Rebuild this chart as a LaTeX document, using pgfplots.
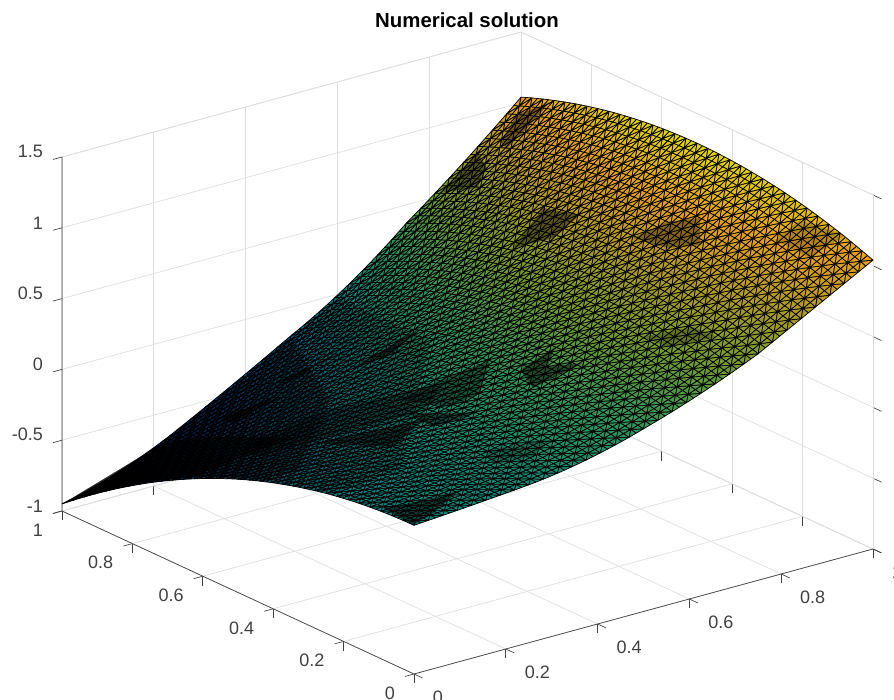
\documentclass[border=0pt]{standalone}
\usepackage{pgfplots}
\usepackage{fontspec}
\setmainfont{Liberation Sans}
\usepgfplotslibrary{patchplots}
\pgfplotsset{compat=1.18}
\definecolor{axdark}{gray}{0.25}
\definecolor{gridgray}{gray}{0.87}
\pgfplotsset{
  geom/.style={
    at={(310.5pt,125.7pt)}, anchor=origin,
    x={(344.25pt,93.75pt)}, y={(-264pt,122.25pt)}, z={(0pt,106.2pt)},
    xmin=0,xmax=1,ymin=0,ymax=1,zmin=-1,zmax=1.5,clip=false,
    point meta min=-0.95, point meta max=1.29,
    colormap={parula}{rgb255=(40,25,110); rgb255=(15,60,170); rgb255=(10,90,170); rgb255=(0,115,155); rgb255=(5,135,130); rgb255=(45,150,90); rgb255=(115,155,45); rgb255=(175,155,35); rgb255=(230,160,25); rgb255=(225,215,0)},
  },
  surfpatch/.style={patch, patch type=biquadratic, patch refines=3, patch to triangles, shader=faceted, faceted color=black, line width=0.55pt},
}
\newcommand\surfpart[1]{\begin{axis}[geom,hide axis]\addplot3[surfpatch] coordinates {#1};\end{axis}}
\begin{document}
\begin{tikzpicture}[x=1pt,y=1pt]
\path[use as bounding box] (0,0) rectangle (670.5,525);
\begin{axis}[
  geom,
  xtick={0,0.2,0.4,0.6,0.8,1},
  ytick={0,0.2,0.4,0.6,0.8,1},
  ztick={-1,-0.5,0,0.5,1,1.5},
  xticklabels={{\makebox[18.77pt][l]{0}},0.2,0.4,0.6,0.8,{\makebox[18.77pt][l]{1}}},
  yticklabels={{\makebox[18.77pt][r]{0}},0.2,0.4,0.6,0.8,{\makebox[18.77pt][r]{1}}},
  zticklabels={-1,-0.5,0,0.5,1,1.5},
  tick pos=left,
  grid=major,
  major grid style={gridgray,line width=0.5pt},
  axis line style={gridgray,line width=0.5pt},
  tick align=outside,
  major tick length=7pt,
  tick style={axdark,line width=0.5pt},
  ticklabel style={font=\fontsize{13.5}{15}\selectfont,text=axdark},
  xticklabel style={anchor=center,xshift=17.25pt,yshift=-14.25pt},
  yticklabel style={anchor=center,xshift=-17pt,yshift=-12.5pt},
  zticklabel style={xshift=-4.5pt},
]
\addplot3[axdark,line width=0.5pt,forget plot] coordinates {(1,0,-1) (0,0,-1) (0,1,-1) (0,1,1.5)};
\end{axis}
\surfpart{(0,0,0.05)(0.25,0,0.115)(0.25,0.25,0.111)(0,0.25,-0.0125)(0.125,0,0.08)(0.25,0.125,0.128)(0.125,0.25,0.04)(0,0.125,0.034)(0.125,0.125,0.075)}
\surfpart{(0.25,0,0.115)(0.5,0,0.29)(0.5,0.25,0.355)(0.25,0.25,0.111)(0.375,0,0.18)(0.5,0.125,0.338)(0.375,0.25,0.215)(0.25,0.125,0.128)(0.375,0.125,0.213)}
\surfpart{(0.5,0,0.29)(0.75,0,0.6)(0.75,0.25,0.73)(0.5,0.25,0.355)(0.625,0,0.43)(0.75,0.125,0.68)(0.625,0.25,0.523)(0.5,0.125,0.338)(0.625,0.125,0.492)}
\surfpart{(0.75,0,0.6)(1,0,1.04)(1,0.25,1.2275)(0.75,0.25,0.73)(0.875,0,0.82)(1,0.125,1.149)(0.875,0.25,0.975)(0.75,0.125,0.68)(0.875,0.125,0.913)}
\surfpart{(0,0.25,-0.0125)(0.25,0.25,0.111)(0.25,0.5,-0.018)(0,0.5,-0.2)(0.125,0.25,0.04)(0.25,0.375,0.062)(0.125,0.5,-0.125)(0,0.375,-0.091)(0.125,0.375,-0.027)}
\surfpart{(0.25,0.25,0.111)(0.5,0.25,0.355)(0.5,0.5,0.295)(0.25,0.5,-0.018)(0.375,0.25,0.215)(0.5,0.375,0.34)(0.375,0.5,0.125)(0.25,0.375,0.062)(0.375,0.375,0.185)}
\surfpart{(0.5,0.25,0.355)(0.75,0.25,0.73)(0.75,0.5,0.735)(0.5,0.5,0.295)(0.625,0.25,0.523)(0.75,0.375,0.748)(0.625,0.5,0.49)(0.5,0.375,0.34)(0.625,0.375,0.522)}
\surfpart{(0.75,0.25,0.73)(1,0.25,1.2275)(1,0.5,1.29)(0.75,0.5,0.735)(0.875,0.25,0.975)(1,0.375,1.274)(0.875,0.5,1.005)(0.75,0.375,0.748)(0.875,0.375,1.005)}
\surfpart{(0,0.5,-0.2)(0.25,0.5,-0.018)(0.25,0.75,-0.271)(0,0.75,-0.5125)(0.125,0.5,-0.125)(0.25,0.625,-0.129)(0.125,0.75,-0.415)(0,0.625,-0.341)(0.125,0.625,-0.255)}
\surfpart{(0.25,0.5,-0.018)(0.5,0.5,0.295)(0.5,0.75,0.11)(0.25,0.75,-0.271)(0.375,0.5,0.125)(0.5,0.625,0.218)(0.375,0.75,-0.09)(0.25,0.625,-0.129)(0.375,0.625,0.033)}
\surfpart{(0.5,0.5,0.295)(0.75,0.5,0.735)(0.75,0.75,0.615)(0.5,0.75,0.11)(0.625,0.5,0.49)(0.75,0.625,0.69)(0.625,0.75,0.333)(0.5,0.625,0.218)(0.625,0.625,0.427)}
\surfpart{(0.75,0.5,0.735)(1,0.5,1.29)(1,0.75,1.2275)(0.75,0.75,0.615)(0.875,0.5,1.005)(1,0.625,1.274)(0.875,0.75,0.91)(0.75,0.625,0.69)(0.875,0.625,0.973)}
\surfpart{(0,0.75,-0.5125)(0.25,0.75,-0.271)(0.25,1,-0.65)(0,1,-0.95)(0.125,0.75,-0.415)(0.25,0.875,-0.445)(0.125,1,-0.83)(0,0.875,-0.716)(0.125,0.875,-0.607)}
\surfpart{(0.25,0.75,-0.271)(0.5,0.75,0.11)(0.5,1,-0.2)(0.25,1,-0.65)(0.375,0.75,-0.09)(0.5,0.875,-0.03)(0.375,1,-0.43)(0.25,0.875,-0.445)(0.375,0.875,-0.245)}
\surfpart{(0.5,0.75,0.11)(0.75,0.75,0.615)(0.75,1,0.37)(0.5,1,-0.2)(0.625,0.75,0.333)(0.75,0.875,0.508)(0.625,1,0.05)(0.5,0.875,-0.03)(0.625,0.875,0.207)}
\surfpart{(0.75,0.75,0.615)(1,0.75,1.2275)(1,1,1.04)(0.75,1,0.37)(0.875,0.75,0.91)(1,0.875,1.149)(0.875,1,0.69)(0.75,0.875,0.508)(0.875,0.875,0.815)}
\begin{axis}[
  at={(0pt,0pt)}, anchor=south west, width=670.5pt, height=525pt, scale only axis,
  xmin=0,xmax=894,ymin=0,ymax=700,y dir=reverse, hide axis, clip=false,
]
\addplot[fill=black,fill opacity=0.2,draw=none] coordinates {(64,503)(155,448)(246,375)(338,298)(430,340)(400,470)(330,493)(260,481)(225,478)(193,477)(155,481)(105,491)} --cycle;
\addplot[fill=black,fill opacity=0.35,draw=none] coordinates {(64,503)(155,448)(246,375)(290,337)(330,400)(300,470)(260,481)(225,478)(193,477)(155,481)(105,491)} --cycle;
\addplot[fill=black,fill opacity=0.65,draw=none] coordinates {(64,503)(155,448)(193,437)(293,437)(227,463)(193,477)(147,482)(105,491)} --cycle;
\addplot[fill=black,fill opacity=0.7,draw=none] coordinates {(220,417)(280,397)(233,423)} --cycle;
\addplot[fill=black,fill opacity=0.7,draw=none] coordinates {(280,382)(337,353)(293,380)} --cycle;
\addplot[fill=black,fill opacity=0.6,draw=none] coordinates {(350,370)(420,328)(393,353)} --cycle;
\addplot[fill=black,fill opacity=0.5,draw=none] coordinates {(313,443)(393,427)(427,417)(393,447)} --cycle;
\addplot[fill=black,fill opacity=0.7,draw=none] coordinates {(367,473)(407,462)(393,467)} --cycle;
\addplot[fill=black,fill opacity=0.55,draw=none] coordinates {(383,508)(427,500)(460,490)(433,513)(413,525)} --cycle;
\addplot[fill=black,fill opacity=0.35,draw=none] coordinates {(243,447)(327,410)(443,383)(427,410)(327,437)(260,457)} --cycle;
\addplot[fill=black,fill opacity=0.5,draw=none] coordinates {(520,370)(555,347)(547,367)(583,363)(533,388)} --cycle;
\addplot[fill=black,fill opacity=0.5,draw=none] coordinates {(407,413)(477,413)(433,427)} --cycle;
\addplot[fill=black,fill opacity=0.4,draw=none] coordinates {(400,400)(433,383)(490,360)(480,393)(450,407)} --cycle;
\addplot[fill=black,fill opacity=0.25,draw=none] coordinates {(483,450)(550,440)(533,457)(493,463)} --cycle;
\addplot[fill=black,fill opacity=0.25,draw=none] coordinates {(643,337)(693,327)(717,337)(667,347)} --cycle;
\addplot[fill=black,fill opacity=0.45,draw=none] coordinates {(513,248)(543,208)(580,215)(553,238)} --cycle;
\addplot[fill=black,fill opacity=0.45,draw=none] coordinates {(500,142)(517,115)(550,102)(530,125)(507,148)} --cycle;
\addplot[fill=black,fill opacity=0.45,draw=none] coordinates {(443,192)(477,152)(487,168)(477,188)} --cycle;
\addplot[fill=black,fill opacity=0.35,draw=none] coordinates {(633,238)(667,222)(700,218)(700,245)(667,248)} --cycle;
\addplot[fill=black,fill opacity=0.2,draw=none] coordinates {(775,240)(800,220)(845,235)(810,258)} --cycle;
\end{axis}
\node[font=\bfseries\fontsize{15.3}{17}\selectfont] at (350.25,510) {Numerical solution};
\end{tikzpicture}
\end{document}
